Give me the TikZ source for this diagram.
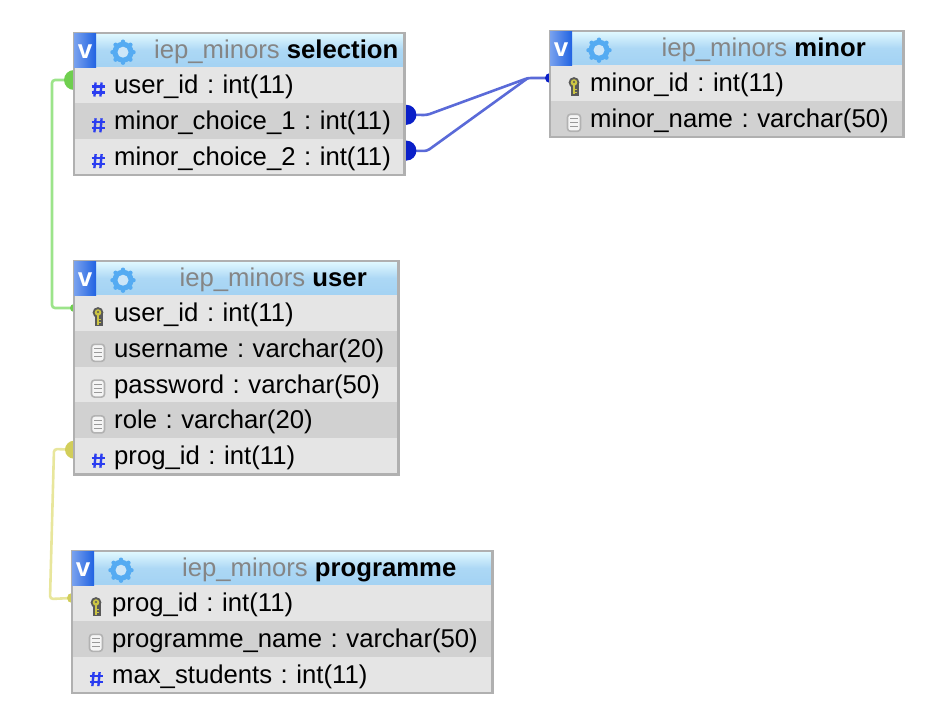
\documentclass[tikz,border=0pt]{standalone}
\usepackage{fontspec}
\setmainfont{Liberation Sans}
\usetikzlibrary{positioning,fit,backgrounds}
\definecolor{framegray}{HTML}{B0B0B0}
\definecolor{rowlight}{HTML}{E5E5E5}
\definecolor{rowdark}{HTML}{D1D1D1}
\definecolor{titletop}{HTML}{E2FAFF}
\definecolor{titlebot}{HTML}{A3D2F3}
\definecolor{gearblue}{HTML}{55ABF2}
\definecolor{btnblue}{HTML}{1F62E2}
\definecolor{hashblue}{HTML}{2A3DF0}
\definecolor{linkblue}{HTML}{5A6AD8}
\definecolor{dotblue}{HTML}{0A1FC8}
\definecolor{linkgreen}{HTML}{9CE48A}
\definecolor{dotgreen}{HTML}{6FCF4F}
\definecolor{linkyellow}{HTML}{E8E69C}
\definecolor{dotyellow}{HTML}{D2CE5A}
\newcommand{\fsz}{\frenchspacing\fontsize{25.7}{28}\selectfont}
\tikzset{
  titlebar/.style={minimum width=#1, minimum height=34pt, inner sep=0pt, top color=titletop, bottom color=titlebot, middle color=titlebot!85!titletop, font=\fsz},
  rowbase/.style={text width=#1, minimum height=36pt, inner sep=0pt, align=left, text height=20pt, text depth=3pt, font=\fsz, execute at begin node={\hspace*{40pt}}},
  rowl/.style={rowbase=#1, fill=rowlight},
  rowd/.style={rowbase=#1, fill=rowdark},
  tableframe/.style={draw=framegray, line width=2.4pt, inner sep=0pt},
  vbutton/.style={minimum width=22pt, minimum height=34pt, inner sep=0pt, left color=btnblue!60!white, right color=btnblue, text=white, text height=17pt, text depth=0pt, font=\fontsize{26}{26}\selectfont\bfseries},
  titletext/.style={inner sep=0pt, text=black!48, font=\fsz},
  link/.style={line width=2.6pt, rounded corners=3pt},
  dot/.style={circle, inner sep=0pt, minimum size=#1},
  gear/.pic={
    \fill[gearblue] (0,0) circle (10.5pt);
    \foreach \a in {0,45,...,315} \fill[gearblue] (\a:10.5pt) circle (2.2pt);
    \fill[titlebot!55!white] (0,0) circle (5.5pt);
  },
  hashicon/.pic={
    \foreach \c in {-3,3} {
      \draw[hashblue, line width=2.4pt] (\c pt-0.6pt,-7pt) -- (\c pt+0.6pt,7pt);
      \draw[hashblue, line width=2.4pt] (-6.5pt,\c pt) -- (6.5pt,\c pt);
    }
  },
  keyicon/.pic={
    \fill[black!65] (0,4.5pt) circle (5.4pt);
    \fill[black!65] (-3pt,4pt) rectangle (4.5pt,-9pt);
    \fill[yellow!75!black!90!white] (0,4.5pt) circle (3.3pt);
    \fill[yellow!75!black!90!white] (-1.2pt,4pt) rectangle (1.2pt,-7.5pt);
    \fill[yellow!75!black!90!white] (1pt,-2pt) rectangle (3.2pt,-3.4pt);
    \fill[yellow!75!black!90!white] (1pt,-5pt) rectangle (3.2pt,-6.4pt);
    \fill[black!65] (0,5pt) circle (1.2pt);
  },
  docicon/.pic={
    \draw[black!30, fill=black!4, line width=1.6pt, rounded corners=3pt] (-6.5pt,-8.5pt) rectangle (6.5pt,8.5pt);
    \foreach \b in {-4,0,4} \draw[black!40, line width=1pt] (-3.8pt,\b pt) -- (3.8pt,\b pt);
  },
}
\begin{document}
\begin{tikzpicture}[x=1pt,y=-1pt]
\useasboundingbox (0,0) rectangle (936,722);

% connectors go first, the tables cover them
\coordinate (kneea) at (427,115);
\coordinate (kneeb) at (427,151);
\coordinate (joinm) at (528,78);
\coordinate (greenx) at (52,200);
\coordinate (yellowa) at (54,449);
\coordinate (yellowb) at (50,599);

% selection
\node[titlebar=330pt, anchor=north west] (s0) at (74,33) {};
\node[rowl=330pt, below=-0.6pt of s0] (s1) {user\_id : int(11)};
\node[rowd=330pt, below=-0.6pt of s1] (s2) {minor\_choice\_1 : int(11)};
\node[rowl=330pt, below=-0.6pt of s2] (s3) {minor\_choice\_2 : int(11)};
\node[tableframe, fit=(s0)(s3)] (selection) {};

% minor
\node[titlebar=353pt, anchor=north west] (m0) at (550,31) {};
\node[rowl=353pt, below=-0.6pt of m0] (m1) {minor\_id : int(11)};
\node[rowd=353pt, below=-0.6pt of m1] (m2) {minor\_name : varchar(50)};
\node[tableframe, fit=(m0)(m2)] (minor) {};

% user
\node[titlebar=324pt, anchor=north west] (u0) at (74,261) {};
\node[rowl=324pt, below=-0.6pt of u0] (u1) {user\_id : int(11)};
\node[rowd=324pt, below=-0.6pt of u1] (u2) {username : varchar(20)};
\node[rowl=324pt, below=-0.6pt of u2] (u3) {password : varchar(50)};
\node[rowd=324pt, below=-0.6pt of u3] (u4) {role : varchar(20)};
\node[rowl=324pt, below=-0.6pt of u4] (u5) {prog\_id : int(11)};
\node[tableframe, fit=(u0)(u5)] (user) {};

% programme
\node[titlebar=420pt, anchor=north west] (p0) at (72,551) {};
\node[rowl=420pt, below=-0.6pt of p0] (p1) {prog\_id : int(11)};
\node[rowd=420pt, below=-0.6pt of p1] (p2) {programme\_name : varchar(50)};
\node[rowl=420pt, below=-0.6pt of p2] (p3) {max\_students : int(11)};
\node[tableframe, fit=(p0)(p3)] (programme) {};

% titles
\node[titletext] (st) at ([xshift=37pt,yshift=-2pt]s0.center) {iep\_minors \textcolor{black}{\textbf{selection}}};
\node[titletext] (mt) at ([xshift=37pt,yshift=-2pt]m0.center) {iep\_minors \textcolor{black}{\textbf{minor}}};
\node[titletext] (ut) at ([xshift=37pt,yshift=-2pt]u0.center) {iep\_minors \textcolor{black}{\textbf{user}}};
\node[titletext] (pt) at ([xshift=37pt,yshift=-2pt]p0.center) {iep\_minors \textcolor{black}{\textbf{programme}}};

% v buttons and gears
\foreach \t in {s0,m0,u0,p0} {
  \node[vbutton, right=0pt of \t.west] (v\t) {v};
  \pic at ([xshift=49pt,yshift=-2pt]\t.west) {gear};
}

% row icons
\foreach \r in {s1,s2,s3,u5,p3} \pic at ([xshift=24pt,yshift=-4.5pt]\r.west) {hashicon};
\foreach \r in {m1,u1,p1} \pic at ([xshift=24pt,yshift=-4pt]\r.west) {keyicon};
\foreach \r in {m2,u2,u3,u4,p2} \pic at ([xshift=24pt,yshift=-4pt]\r.west) {docicon};

% links
\begin{scope}[on background layer]
\draw[link, draw=linkgreen] ([yshift=5pt]s1.west) -| (greenx) |- ([yshift=5pt]u1.west);
\draw[link, draw=linkyellow] ([yshift=6.5pt]u5.west) -- (yellowa) -- (yellowb) -- ([yshift=5pt]p1.west);
\draw[link, draw=linkblue] ([yshift=6pt]s2.east) -- (kneea) -- (joinm) -- (m1.west |- joinm);
\draw[link, draw=linkblue] ([yshift=6pt]s3.east) -- (kneeb) -- (joinm);
\node[dot=20pt, fill=dotblue] (da) at ([xshift=2pt,yshift=6pt]s2.east) {};
\node[dot=20pt, fill=dotblue] (db) at ([xshift=2pt,yshift=6pt]s3.east) {};
\node[dot=10pt, fill=dotblue] (dm) at (m1.west |- joinm) {};
\node[dot=20pt, fill=dotgreen] (dg) at ([yshift=5pt]s1.west) {};
\node[dot=8pt, fill=dotgreen] (dh) at ([yshift=5pt]u1.west) {};
\node[dot=18pt, fill=dotyellow] (dy) at ([yshift=6.5pt]u5.west) {};
\node[dot=10pt, fill=dotyellow] (dz) at ([yshift=5pt]p1.west) {};
\end{scope}
\end{tikzpicture}
\end{document}
